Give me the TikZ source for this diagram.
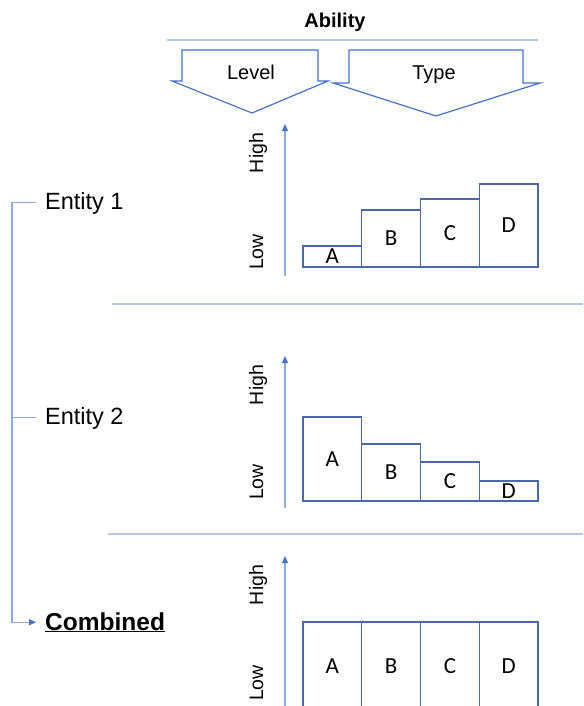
\documentclass[tikz,border=0pt]{standalone}
\usepackage{fontspec}
\setmainfont{Liberation Sans}
\newfontfamily\barfont{Carlito}
\usetikzlibrary{arrows.meta,positioning}
\definecolor{AbilityBlue}{HTML}{4472C4}
\definecolor{AxisBlue}{HTML}{8FAADC}
\definecolor{RuleBlue}{HTML}{B4C7E7}
\definecolor{BarEdge}{HTML}{4A6AA6}
\tikzset{
  axisline/.style={draw=AxisBlue,line width=1.1pt,-{Triangle[length=7pt,width=6pt,color=AbilityBlue]}},
  bracket/.style={draw=AxisBlue,line width=1.1pt},
  rule/.style={draw=RuleBlue,line width=1.3pt},
  headarrow/.style={draw=AbilityBlue,line width=1.2pt,fill=white,line join=miter},
  bar/.style={draw=BarEdge,line width=1.1pt,fill=white,minimum width=58.75pt,inner sep=0pt,outer sep=0pt,anchor=south west,font=\barfont\fontsize{23}{27}\selectfont},
  entity/.style={anchor=base west,inner xsep=9pt,inner ysep=0pt,font=\fontsize{23.5}{28}\selectfont},
  scale label/.style={rotate=90,anchor=base,inner sep=0pt,font=\fontsize{19.5}{23}\selectfont},
  head/.style={anchor=base,inner sep=0pt,font=\fontsize{20}{24}\selectfont}
}
\begin{document}
\begin{tikzpicture}[x=1pt,y=-1pt]
  \useasboundingbox (0,0) rectangle (583,706);

  % heading
  \node[head,font=\bfseries\fontsize{20}{24}\selectfont] (ability) at (335,28) {Ability};
  \draw[rule] (167,40) -- (538,40);
  \draw[headarrow] (182,50) -- (318,50) -- (318,81) -- (328,81) -- (252,113) -- (172,81) -- (182,81) -- cycle;
  \draw[headarrow] (349,50) -- (523,50) -- (523,83) -- (540,83) -- (436,116) -- (333,83) -- (349,83) -- cycle;
  \node[head] (level) at (251,80) {Level};
  \node[head] (type) at (434,80) {Type};

  % entities
  \node[entity] (ent1) at (36,209) {Entity 1};
  \node[entity] (ent2) at (36,424) {Entity 2};
  \node[entity,font=\bfseries\fontsize{24.5}{29}\selectfont] (comb) at (36,630) {\underline{Combined}};
  \coordinate (spine) at (12,0);
  \draw[bracket] (ent1.west) -- (ent1.west -| spine) |- (comb.west)
    [-{Triangle[length=7pt,width=6pt,color=AbilityBlue]}];
  \draw[bracket] (ent2.west -| spine) -- (ent2.west);

  % panel 1
  \coordinate (axis1b) at (285,276);
  \coordinate (axis1t) at (285,124);
  \draw[axisline] (axis1b) -- (axis1t);
  \node[scale label] (high1) at (263,153) {High};
  \node[scale label] (low1) at (263,252) {Low};
  \node[bar,minimum height=21pt] (a1) at (303,267) {A};
  \node[bar,minimum height=57pt] (b1) at (a1.south east) {B};
  \node[bar,minimum height=68pt] (c1) at (b1.south east) {C};
  \node[bar,minimum height=83pt] (d1) at (c1.south east) {D};
  \draw[rule] (112,304) -- (583,304);

  % panel 2
  \coordinate (axis2b) at (285,508);
  \coordinate (axis2t) at (285,356);
  \draw[axisline] (axis2b) -- (axis2t);
  \node[scale label] (high2) at (263,385) {High};
  \node[scale label] (low2) at (263,482) {Low};
  \node[bar,minimum height=84pt] (a2) at (303,501) {A};
  \node[bar,minimum height=57pt] (b2) at (a2.south east) {B};
  \node[bar,minimum height=39pt] (c2) at (b2.south east) {C};
  \node[bar,minimum height=20pt] (d2) at (c2.south east) {D};
  \draw[rule] (108,534) -- (583,534);

  % panel 3
  \coordinate (axis3b) at (285,710);
  \coordinate (axis3t) at (285,556);
  \draw[axisline] (axis3b) -- (axis3t);
  \node[scale label] (high3) at (263,585) {High};
  \node[scale label] (low3) at (263,683) {Low};
  \node[bar,minimum height=88pt] (a3) at (303,710) {A};
  \node[bar,minimum height=88pt] (b3) at (a3.south east) {B};
  \node[bar,minimum height=88pt] (c3) at (b3.south east) {C};
  \node[bar,minimum height=88pt] (d3) at (c3.south east) {D};
\end{tikzpicture}
\end{document}
